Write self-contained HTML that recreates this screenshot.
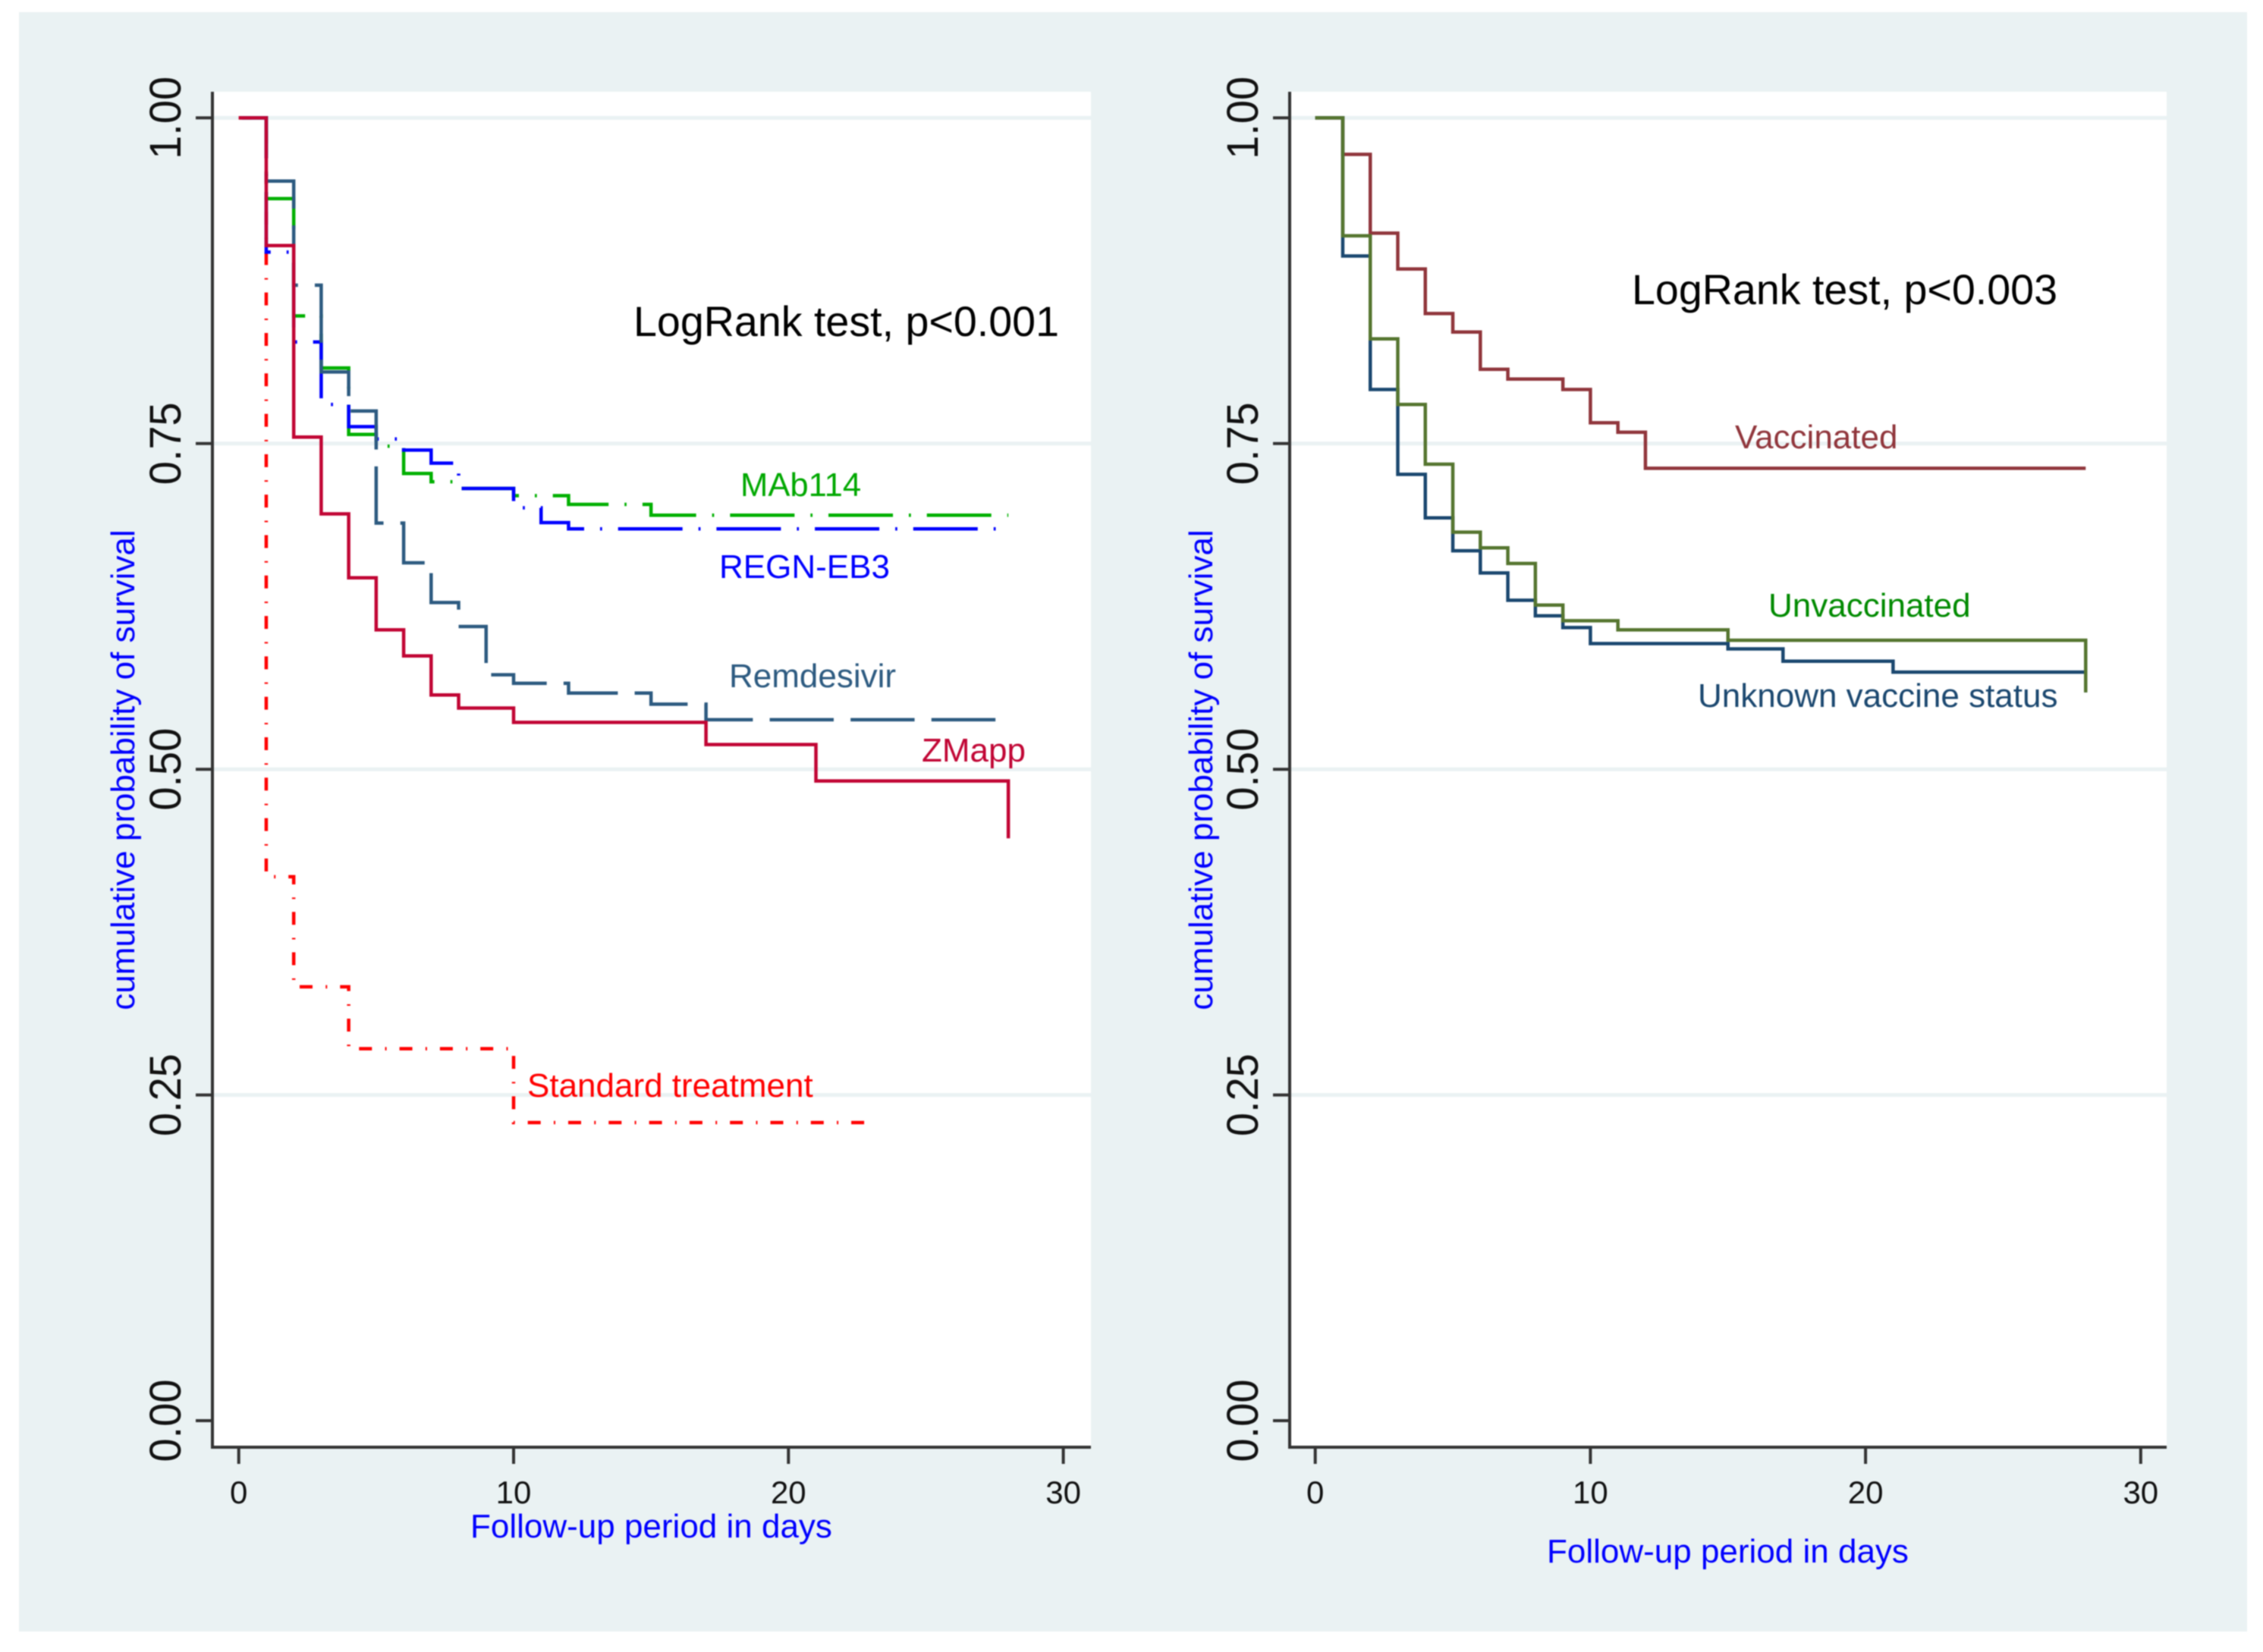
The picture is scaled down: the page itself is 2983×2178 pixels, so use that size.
<!DOCTYPE html>
<html lang="en">
<head>
<meta charset="utf-8">
<title>Kaplan-Meier survival curves</title>
<style>
html,body{margin:0;padding:0;background:#fff;}
svg{display:block;filter:blur(0.7px);}
text{font-family:"Liberation Sans",Arial,sans-serif;}
</style>
</head>
<body>
<svg id="figure" xmlns="http://www.w3.org/2000/svg" width="2983" height="2178" viewBox="0 0 2983 2178">
  <rect x="25" y="16" width="2937" height="2135" fill="#EAF2F3"/>
  <rect x="280" y="121" width="1158" height="1787" fill="#fff"/>
  <rect x="1700" y="121" width="1156" height="1787" fill="#fff"/>
  <g id="left-grid"></g>
  <g id="right-grid"></g>
  <g id="left-series"></g>
  <g id="right-series"></g>
  <g id="left-axes"></g>
  <g id="right-axes"></g>

  <text transform="translate(177,1015) rotate(-90)" text-anchor="middle" font-size="44" fill="#0000FF">cumulative probability of survival</text>
  <text transform="translate(1598,1015) rotate(-90)" text-anchor="middle" font-size="44" fill="#0000FF">cumulative probability of survival</text>
  <text x="620" y="2027" font-size="44" fill="#0000FF">Follow-up period in days</text>
  <text x="2039" y="2060" font-size="44" fill="#0000FF">Follow-up period in days</text>

  <text x="835" y="443" font-size="55.6" fill="#000">LogRank test, p&lt;0.001</text>
  <text x="2151" y="401" font-size="55.6" fill="#000">LogRank test, p&lt;0.003</text>

  <text x="976" y="654" font-size="43.6" fill="#00A800">MAb114</text>
  <text x="948" y="762" font-size="44" fill="#0000FF">REGN-EB3</text>
  <text x="961" y="906" font-size="44" fill="#2C5A80">Remdesivir</text>
  <text x="1215" y="1004" font-size="44" fill="#C10534">ZMapp</text>
  <text x="695" y="1446" font-size="44" fill="#FF0000">Standard treatment</text>
  <text x="2287" y="591" font-size="44" fill="#90353B">Vaccinated</text>
  <text x="2331" y="813" font-size="44" fill="#008A00">Unvaccinated</text>
  <text x="2238" y="932" font-size="44" fill="#1A476F">Unknown vaccine status</text>
</svg>
<script>
// Axis tick values
const survivalTicks = [0, 0.25, 0.5, 0.75, 1];
const survivalTickLabels = ['0.00', '0.25', '0.50', '0.75', '1.00'];
const gridTicks = [0.25, 0.5, 0.75, 1];
const dayTicks = [0, 10, 20, 30];

// Left panel: treatment arms
const standardDays = [0, 1, 2, 4, 10, 23];
const standardSurvival = [1, 0.4175, 0.333, 0.2855, 0.2288, 0.2288];
const regnDays = [0, 1, 2, 3, 4, 5, 6, 7, 8, 10, 11, 12, 28];
const regnSurvival = [1, 0.897, 0.828, 0.78, 0.763, 0.7535, 0.745, 0.735, 0.7155, 0.7007, 0.6893, 0.6845, 0.6845];
const mabDays = [0, 1, 2, 3, 4, 5, 6, 7, 8, 10, 12, 15, 28];
const mabSurvival = [1, 0.938, 0.848, 0.808, 0.757, 0.748, 0.727, 0.7207, 0.7155, 0.71, 0.7033, 0.695, 0.695];
const remdesivirDays = [0, 1, 2, 3, 4, 5, 6, 7, 8, 9, 10, 12, 15, 17, 28];
const remdesivirSurvival = [1, 0.9515, 0.8716, 0.805, 0.775, 0.689, 0.6585, 0.628, 0.6096, 0.5725, 0.566, 0.5585, 0.55, 0.538, 0.538];
const zmappDays = [0, 1, 2, 3, 4, 5, 6, 7, 8, 10, 17, 21, 28];
const zmappSurvival = [1, 0.902, 0.755, 0.696, 0.647, 0.607, 0.587, 0.557, 0.547, 0.536, 0.519, 0.491, 0.447];

// Right panel: vaccine status
const vaccinatedDays = [0, 1, 2, 3, 4, 5, 6, 7, 9, 10, 11, 12, 28];
const vaccinatedSurvival = [1, 0.972, 0.9115, 0.884, 0.8498, 0.8356, 0.807, 0.7995, 0.7915, 0.766, 0.7587, 0.731, 0.731];
const unknownDays = [0, 1, 2, 3, 4, 5, 6, 7, 8, 9, 10, 15, 17, 21, 28];
const unknownSurvival = [1, 0.894, 0.7915, 0.7264, 0.693, 0.6677, 0.6507, 0.6297, 0.6178, 0.6088, 0.5965, 0.5924, 0.5829, 0.5746, 0.559];
const unvaccinatedDays = [0, 1, 2, 3, 4, 5, 6, 7, 8, 9, 11, 15, 28];
const unvaccinatedSurvival = [1, 0.9095, 0.8304, 0.78, 0.7342, 0.682, 0.67, 0.658, 0.626, 0.614, 0.607, 0.599, 0.559];

const SVG_NS = 'http://www.w3.org/2000/svg';
const Y_ZERO = 1873;
const Y_SPAN = 1717.6;

function makePanel(dayZeroX, pixelsPerDay, axisX, rightEdge, prefix) {
  return {
    x: function (day) { return dayZeroX + pixelsPerDay * day; },
    y: function (value) { return Y_ZERO - Y_SPAN * value; },
    axisX: axisX,
    rightEdge: rightEdge,
    bottom: 1908,
    top: 121,
    prefix: prefix
  };
}
const leftPanel = makePanel(314.7, 36.23, 280, 1438, 'left');
const rightPanel = makePanel(1733.7, 36.27, 1700, 2856, 'right');

function svgEl(tag, attrs) {
  const el = document.createElementNS(SVG_NS, tag);
  Object.keys(attrs).forEach(function (key) { el.setAttribute(key, attrs[key]); });
  return el;
}

function drawAxes(panel) {
  const grid = document.getElementById(panel.prefix + '-grid');
  const axes = document.getElementById(panel.prefix + '-axes');

  gridTicks.forEach(function (value) {
    const line = svgEl('line', { x1: panel.axisX, x2: panel.rightEdge, y1: panel.y(value), y2: panel.y(value), stroke: '#EAF2F3', 'stroke-width': 5 });
    
    
    grid.appendChild(line);
  });

  const yAxis = svgEl('line', { x1: panel.axisX, x2: panel.axisX, y1: panel.top, y2: panel.bottom + 2, stroke: '#333', 'stroke-width': 4 });
  
  
  axes.appendChild(yAxis);

  const xAxis = svgEl('line', { x1: panel.axisX - 2, x2: panel.rightEdge, y1: panel.bottom, y2: panel.bottom, stroke: '#333', 'stroke-width': 4 });
  
  
  axes.appendChild(xAxis);

  survivalTicks.forEach(function (value, i) {
    const tick = svgEl('line', { x1: panel.axisX - 22, x2: panel.axisX, y1: panel.y(value), y2: panel.y(value), stroke: '#333', 'stroke-width': 4 });
    
    
    axes.appendChild(tick);

    const label = svgEl('text', {
      transform: 'translate(' + (panel.axisX - 42) + ',' + panel.y(value) + ') rotate(-90) scale(1,1.05)',
      'text-anchor': 'middle', 'font-size': 56, fill: '#111'
    });
    label.textContent = survivalTickLabels[i];
    
    
    axes.appendChild(label);
  });

  dayTicks.forEach(function (day) {
    const tick = svgEl('line', { x1: panel.x(day), x2: panel.x(day), y1: panel.bottom, y2: panel.bottom + 22, stroke: '#333', 'stroke-width': 4 });
    
    
    axes.appendChild(tick);

    const label = svgEl('text', { x: panel.x(day), y: 1982, 'text-anchor': 'middle', 'font-size': 42, fill: '#111' });
    label.textContent = String(day);
    
    
    axes.appendChild(label);
  });
}

function stepPath(panel, days, values) {
  let d = 'M' + panel.x(days[0]) + ' ' + panel.y(values[0]);
  for (let i = 1; i < days.length; i++) {
    d += ' H' + panel.x(days[i]) + ' V' + panel.y(values[i]);
  }
  return d;
}

function drawCurve(panel, name, days, values, color, dash, phase) {
  const attrs = { d: stepPath(panel, days, values), fill: 'none', stroke: color, 'stroke-width': 4.5, 'stroke-linejoin': 'miter' };
  if (dash) {
    attrs['stroke-dasharray'] = dash;
    attrs['stroke-dashoffset'] = -phase;
  }
  const path = svgEl('path', attrs);
  
  
  document.getElementById(panel.prefix + '-series').appendChild(path);
}

drawAxes(leftPanel);
drawAxes(rightPanel);

drawCurve(leftPanel, 'standard-treatment-curve', standardDays, standardSurvival, '#FF0000', '17 17.3 2 17', 0);
drawCurve(leftPanel, 'mab114-curve', mabDays, mabSurvival, '#00B000', '85 21 2.7 21', 4.2);
drawCurve(leftPanel, 'regn-eb3-curve', regnDays, regnSurvival, '#0000FF', '85 21 2.7 21', 4.3);
drawCurve(leftPanel, 'remdesivir-curve', remdesivirDays, remdesivirSurvival, '#2C5A80', '84.4 22.2', 1);
drawCurve(leftPanel, 'zmapp-curve', zmappDays, zmappSurvival, '#C10534');

drawCurve(rightPanel, 'vaccinated-curve', vaccinatedDays, vaccinatedSurvival, '#90353B');
drawCurve(rightPanel, 'unknown-vaccine-status-curve', unknownDays, unknownSurvival, '#1A476F');
drawCurve(rightPanel, 'unvaccinated-curve', unvaccinatedDays, unvaccinatedSurvival, '#55752F');
</script>
</body>
</html>
